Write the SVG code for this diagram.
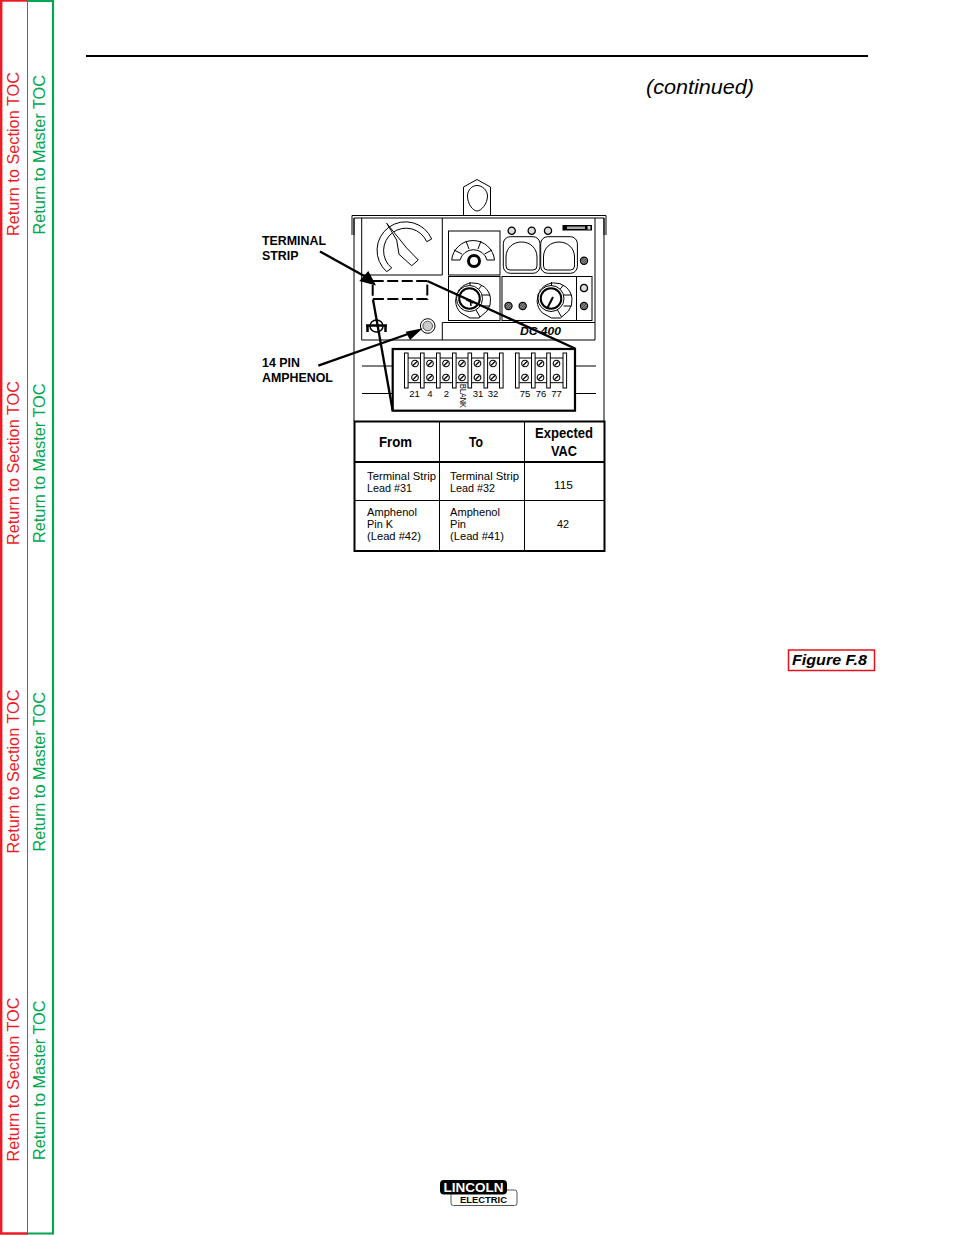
<svg xmlns="http://www.w3.org/2000/svg" xmlns:xlink="http://www.w3.org/1999/xlink" width="954" height="1235" viewBox="0 0 954 1235">
<style>
text{font-family:"Liberation Sans",Arial,sans-serif}
.sec{fill:#ed1c24;font-size:16px}
.mas{fill:#00a651;font-size:16px}
.ln{fill:none;stroke:#000;stroke-width:1}
.w{fill:#fff;stroke:#000;stroke-width:1}
.hv{fill:#000;stroke:none}
.call{fill:none;stroke:#000;stroke-width:2.300}
.lab{font-size:12.400px;font-weight:bold;fill:#000}
.th{font-size:14.500px;font-weight:bold;fill:#000}
.td{font-size:11.800px;fill:#000}
.num{font-size:9.500px;fill:#000}
</style>
<defs>
<g id="scr"><circle r="3.3" fill="#fff" stroke="#000" stroke-width="1.100"/><path d="M-2,2L2,-2" stroke="#000" stroke-width="1.300"/></g>
<g id="dk"><circle r="3.600" fill="#8a8a8a" stroke="#000" stroke-width="1.200"/><path d="M-2,2L2,-2M-2.500,0L0,-2.500M0,2.500L2.500,0" stroke="#222" stroke-width=".7"/></g>
<g id="rg"><circle r="3.600" fill="#ddd" stroke="#000" stroke-width="1.300"/></g>
<rect id="post" x="0" y="353" width="3.600" height="35" fill="#fff" stroke="#000" stroke-width="1"/>
<g id="knob">
<path d="M-12,13A17.500,17.500 0 1 1 14,11L6,18L-3,18Z" fill="#fff" stroke="#000"/>
<path d="M-3,-18V-13M9,-15L5,-10M17,-5H9M17,6H9M7,17L3,10M-15,-10L-10,-7" class="ln"/>
<circle cx="-3.500" cy="-1.500" r="13" fill="#fff" stroke="#000" stroke-width="1"/>
<circle cx="-3.500" cy="-1.500" r="10.300" fill="#fff" stroke="#000" stroke-width="2"/>
</g>
</defs>

<g id="toc-sidebar">
<path d="M27,1H53V1233.500H27" fill="none" stroke="#00a651" stroke-width="2.200"/>
<path d="M27,.5H1.200V1233.500H27" fill="none" stroke="#ed1c24" stroke-width="2.400"/>
<path d="M27.500,0V1235" fill="none" stroke="#00a651" stroke-width="1"/>
<text class="sec" transform="translate(19,236) rotate(-90)" textLength="164" lengthAdjust="spacingAndGlyphs">Return to Section TOC</text>
<text class="mas" transform="translate(45,234.500) rotate(-90)" textLength="159.500" lengthAdjust="spacingAndGlyphs">Return to Master TOC</text>
<text class="sec" transform="translate(19,545) rotate(-90)" textLength="164" lengthAdjust="spacingAndGlyphs">Return to Section TOC</text>
<text class="mas" transform="translate(45,543) rotate(-90)" textLength="159.500" lengthAdjust="spacingAndGlyphs">Return to Master TOC</text>
<text class="sec" transform="translate(19,853.500) rotate(-90)" textLength="164" lengthAdjust="spacingAndGlyphs">Return to Section TOC</text>
<text class="mas" transform="translate(45,851.500) rotate(-90)" textLength="159.500" lengthAdjust="spacingAndGlyphs">Return to Master TOC</text>
<text class="sec" transform="translate(19,1161.500) rotate(-90)" textLength="164" lengthAdjust="spacingAndGlyphs">Return to Section TOC</text>
<text class="mas" transform="translate(45,1160) rotate(-90)" textLength="159.500" lengthAdjust="spacingAndGlyphs">Return to Master TOC</text>
</g>

<g id="header">
<path d="M86,56H868" stroke="#000" stroke-width="2"/>
<text x="646" y="94" font-size="21" font-style="italic" textLength="108" lengthAdjust="spacingAndGlyphs">(continued)</text>
</g>

<g id="machine">
<path d="M463.500,215V187L477,179.500L490.500,187V215" class="w"/>
<path d="M477,185.500C482,185.500 487.500,190 487.500,196C487.500,204 481,211 477,211C473,211 467.500,204 467.500,196C467.500,190 472,185.500 477,185.500Z" class="w"/>
<path d="M352,235V215.500H606V235" class="ln"/>
<path d="M354,235V218H604V235" class="ln"/>
<path d="M354,218V421M604,218V421" class="ln"/>
<path d="M361.700,218V340H595V218" class="ln"/>
<path d="M361.700,275H442.300V218" class="ln"/>
<path d="M442.300,340V322.500H595" class="ln"/>
<g id="main-dial">
<path d="M386.700,271.700A28.500,28.500 0 1 1 431.700,239L426.700,241.700A22.500,22.500 0 1 0 391.700,268Z" class="w"/>
<path d="M386.700,223.300L406.700,248L418.300,260L411.700,265.700L399,254.300L396.700,240Z" class="w"/>
</g>
<g id="box-range">
<rect x="448.500" y="231" width="51.500" height="44" fill="none" stroke="#000"/>
<path d="M451.700,260A21.500,21.500 0 0 1 494.500,260L487,260A14,14 0 0 0 460,260Z" class="w"/>
<path d="M454,250L462,254M466,241L469,249M481,241L478,249M492,250L484.500,254" class="ln"/>
<circle cx="474" cy="261" r="5.500" fill="#fff" stroke="#000" stroke-width="3"/>
</g>
<g id="box-knob1">
<rect x="448.500" y="276.500" width="51.500" height="44" fill="none" stroke="#000"/>
<use xlink:href="#knob" x="473" y="300"/>
<path d="M466,299.500L473,303M470,299L471,306" stroke="#000" stroke-width="1.500" fill="none"/>
</g>
<g id="box-knob2">
<rect x="502" y="276.500" width="90" height="44" fill="none" stroke="#000"/>
<path d="M576.500,276.500V320.500" class="ln"/>
<use xlink:href="#knob" x="554.500" y="300"/>
<path d="M553,297L547.300,308.300" stroke="#000" stroke-width="2"/>
<use xlink:href="#dk" x="508.500" y="306"/>
<use xlink:href="#dk" x="522.700" y="306"/>
<use xlink:href="#rg" x="584" y="288"/>
<use xlink:href="#dk" x="584" y="306"/>
</g>
<g id="gauges">
<rect x="503.300" y="236.700" width="36.700" height="36.600" rx="7" fill="#fff" stroke="#000"/>
<rect x="540.700" y="236.700" width="36.700" height="36.600" rx="7" fill="#fff" stroke="#000"/>
<path d="M506,266V257C506,248 513,242 521.500,242C530,242 537,248 537,257V266Q537,270 533,270H510Q506,270 506,266Z" class="w"/>
<path d="M543.500,266V257C543.500,248 550.500,242 559,242C567.500,242 574.500,248 574.500,257V266Q574.500,270 570.500,270H547.500Q543.500,270 543.500,266Z" class="w"/>
<use xlink:href="#rg" x="511.700" y="230.700"/>
<use xlink:href="#rg" x="531.700" y="230.700"/>
<use xlink:href="#rg" x="548" y="230.700"/>
<use xlink:href="#dk" x="584" y="260.700"/>
<rect x="562.500" y="225" width="29.500" height="5.500" fill="#000"/>
<rect x="567" y="226.500" width="18" height="2.500" fill="#aaa"/>
<rect x="587.500" y="226" width="3" height="3.500" fill="#ccc"/>
</g>
<text x="520" y="335" font-size="10.500" font-weight="bold" font-style="italic" textLength="41" lengthAdjust="spacingAndGlyphs">DC 400</text>
<g id="switch">
<ellipse cx="376.500" cy="326" rx="6.500" ry="6" fill="none" stroke="#000" stroke-width="1.500"/>
<path d="M366,325.500H387M367.500,325V332M385.500,325V332" stroke="#000" stroke-width="2.500" fill="none"/>
</g>
<g id="amphenol">
<circle cx="427.700" cy="326" r="7.300" fill="#fff" stroke="#000"/>
<circle cx="427.700" cy="326" r="4.800" fill="#ccc" stroke="#555"/>
</g>
</g>

<g id="terminal-strip">
<rect x="392.700" y="349" width="182.300" height="61.700" fill="#fff" stroke="#000" stroke-width="2.200"/>
<path d="M362,366H392M362,393.500H392M575,366H596M575,393.500H596" class="ln"/>
<path d="M404,358H503M404,382.700H503M515,358H566M515,382.700H566" class="ln"/>
<g>
<use xlink:href="#post" x="404.500"/><use xlink:href="#post" x="420.500"/><use xlink:href="#post" x="436.500"/><use xlink:href="#post" x="452.500"/><use xlink:href="#post" x="468"/><use xlink:href="#post" x="484"/><use xlink:href="#post" x="499.500"/>
<use xlink:href="#post" x="515.500"/><use xlink:href="#post" x="531.500"/><use xlink:href="#post" x="546.700"/><use xlink:href="#post" x="563"/>
</g>
<g>
<use xlink:href="#scr" x="415" y="363.500"/><use xlink:href="#scr" x="430" y="363.500"/><use xlink:href="#scr" x="446" y="363.500"/><use xlink:href="#scr" x="462" y="363.500"/><use xlink:href="#scr" x="477.500" y="363.500"/><use xlink:href="#scr" x="493" y="363.500"/>
<use xlink:href="#scr" x="525" y="363.500"/><use xlink:href="#scr" x="540.500" y="363.500"/><use xlink:href="#scr" x="556.500" y="363.500"/>
<use xlink:href="#scr" x="415" y="377.500"/><use xlink:href="#scr" x="430" y="377.500"/><use xlink:href="#scr" x="446" y="377.500"/><use xlink:href="#scr" x="462" y="377.500"/><use xlink:href="#scr" x="477.500" y="377.500"/><use xlink:href="#scr" x="493" y="377.500"/>
<use xlink:href="#scr" x="525" y="377.500"/><use xlink:href="#scr" x="540.500" y="377.500"/><use xlink:href="#scr" x="556.500" y="377.500"/>
</g>
<g class="num" text-anchor="middle">
<text x="414.500" y="397">21</text><text x="430" y="397">4</text><text x="446.500" y="397">2</text><text x="478" y="397">31</text><text x="493" y="397">32</text><text x="525" y="397">75</text><text x="541" y="397">76</text><text x="556.500" y="397">77</text>
</g>
<text class="num" transform="translate(459.500,384) rotate(90)" textLength="24" lengthAdjust="spacingAndGlyphs">BLANK</text>
</g>

<g id="connectors">
<path id="strip-zoom" d="M372.700,281H427.300V299H372.700Z" fill="none" stroke="#000" stroke-width="2" stroke-dasharray="11 3.500"/>
<path d="M427.300,281L575,348.500" class="call"/>
<path d="M373,299.500L392.700,410.700" class="call"/>
<path d="M320,251.500L366,277" class="call"/>
<path class="hv" d="M376,285.500L359.300,281L368.300,271Z"/>
<path d="M318.300,365.700L408,334" class="call"/>
<path class="hv" d="M422.700,328.300L405.700,331.700L410,340Z"/>
</g>

<g id="label-terminal-strip">
<text class="lab" x="262" y="245">TERMINAL</text>
<text class="lab" x="262" y="260">STRIP</text>
</g>
<g id="label-amphenol">
<text class="lab" x="262" y="367">14 PIN</text>
<text class="lab" x="262" y="382">AMPHENOL</text>
</g>

<g id="voltage-table">
<rect x="354.500" y="421.500" width="250" height="129.500" fill="#fff" stroke="#000" stroke-width="2"/>
<path d="M354,462H605" stroke="#000" stroke-width="2"/>
<path d="M354,500.500H605" stroke="#000" stroke-width="1"/>
<path d="M439.500,421V551M524.500,421V551" stroke="#000" stroke-width="1"/>
<text class="th" x="379" y="447" textLength="33" lengthAdjust="spacingAndGlyphs">From</text>
<text class="th" x="469" y="447" textLength="14" lengthAdjust="spacingAndGlyphs">To</text>
<text class="th" x="535" y="438" textLength="58" lengthAdjust="spacingAndGlyphs">Expected</text>
<text class="th" x="551" y="456" textLength="26" lengthAdjust="spacingAndGlyphs">VAC</text>
<text class="td" x="367" y="480" textLength="69" lengthAdjust="spacingAndGlyphs">Terminal Strip</text>
<text class="td" x="367" y="492" textLength="45" lengthAdjust="spacingAndGlyphs">Lead #31</text>
<text class="td" x="450" y="480" textLength="69" lengthAdjust="spacingAndGlyphs">Terminal Strip</text>
<text class="td" x="450" y="492" textLength="45" lengthAdjust="spacingAndGlyphs">Lead #32</text>
<text class="td" x="554" y="489" textLength="19" lengthAdjust="spacingAndGlyphs">115</text>
<text class="td" x="367" y="516" textLength="50" lengthAdjust="spacingAndGlyphs">Amphenol</text>
<text class="td" x="367" y="528" textLength="26" lengthAdjust="spacingAndGlyphs">Pin K</text>
<text class="td" x="367" y="540" textLength="54" lengthAdjust="spacingAndGlyphs">(Lead #42)</text>
<text class="td" x="450" y="516" textLength="50" lengthAdjust="spacingAndGlyphs">Amphenol</text>
<text class="td" x="450" y="528" textLength="16" lengthAdjust="spacingAndGlyphs">Pin</text>
<text class="td" x="450" y="540" textLength="54" lengthAdjust="spacingAndGlyphs">(Lead #41)</text>
<text class="td" x="557" y="528" textLength="12" lengthAdjust="spacingAndGlyphs">42</text>
</g>

<g id="figure-label">
<rect x="788.500" y="650" width="86" height="20.500" fill="#fff" stroke="#e0141c" stroke-width="1.500"/>
<text x="792" y="665" font-size="15" font-weight="bold" font-style="italic" textLength="75" lengthAdjust="spacingAndGlyphs">Figure  F.8</text>
</g>

<g id="logo">
<rect x="451" y="1190" width="66" height="15.500" rx="2.500" fill="#fff" stroke="#555" stroke-width="1"/>
<rect x="440" y="1180" width="67" height="14.500" rx="4" fill="#000"/>
<text x="443.500" y="1192" font-size="13" font-weight="bold" fill="#fff" textLength="60" lengthAdjust="spacingAndGlyphs">LINCOLN</text>
<text x="460" y="1203" font-size="9.500" font-weight="bold" fill="#000" textLength="47" lengthAdjust="spacingAndGlyphs">ELECTRIC</text>
</g>
</svg>
